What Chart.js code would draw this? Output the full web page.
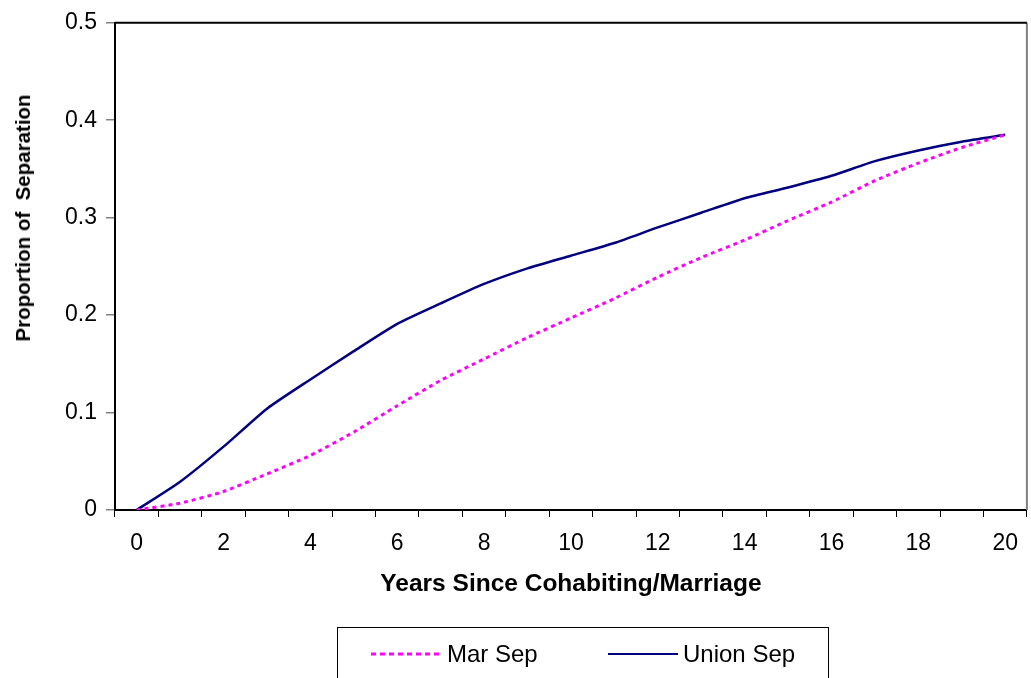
<!DOCTYPE html>
<html>
<head>
<meta charset="utf-8">
<script src="https://cdn.jsdelivr.net/npm/chart.js@4"></script>
<style>
  html, body { margin: 0; padding: 0; background: #fff; }
  #wrap { position: relative; width: 1031px; height: 678px; overflow: hidden; font-family: "Liberation Sans", Arial, sans-serif; }
  #chart { position: absolute; left: 0; top: 0; }
  #ytitle {
    position: absolute; left: 23px; top: 218px; white-space: pre;
    transform: translate(-50%, -50%) rotate(-90deg);
    font-weight: bold; font-size: 20.5px; color: #000;
  }
  #legend {
    position: absolute; left: 337px; top: 627px; width: 492px; height: 70px;
    border: 1px solid #000; box-sizing: border-box;
  }
  .item { position: absolute; top: 12px; height: 28px; font-size: 24px; line-height: 28px; color: #000; }
  .item svg { position: absolute; left: 0; top: 0; }
  .item span { position: absolute; white-space: nowrap; }
</style>
</head>
<body>
<div id="wrap">
  <canvas id="chart" width="1031" height="678"></canvas>
  <div id="ytitle">Proportion of  Separation</div>
  <div id="legend">
    <div class="item" style="left:33px">
      <svg width="72" height="28"><line x1="0" y1="14" x2="71" y2="14" stroke="#ff00ff" stroke-width="3" stroke-dasharray="5,4"/></svg>
      <span style="left:76px">Mar Sep</span>
    </div>
    <div class="item" style="left:270px">
      <svg width="72" height="28"><line x1="0" y1="14" x2="70" y2="14" stroke="#000080" stroke-width="2"/></svg>
      <span style="left:75px">Union Sep</span>
    </div>
  </div>
</div>
<script>
// ================= DATA =================
const years = ["0","1","2","3","4","5","6","7","8","9","10","11","12","13","14","15","16","17","18","19","20"];
const marSep = [0, 0.007, 0.019, 0.037, 0.056, 0.080, 0.107, 0.133, 0.155, 0.177, 0.197, 0.217, 0.239, 0.259, 0.277, 0.297, 0.316, 0.338, 0.356, 0.372, 0.385];
const unionSep = [0, 0.029, 0.065, 0.104, 0.134, 0.163, 0.191, 0.212, 0.232, 0.248, 0.261, 0.274, 0.290, 0.305, 0.320, 0.331, 0.343, 0.358, 0.369, 0.378, 0.385];
const yTicks = [0, 0.1, 0.2, 0.3, 0.4, 0.5];

// ================= PLOT BORDER =================
const plotBorder = {
  id: "plotBorder",
  afterDraw(chart) {
    const { ctx, chartArea: a } = chart;
    ctx.save();
    ctx.strokeStyle = "#808080";
    ctx.lineWidth = 2;
    ctx.beginPath();
    ctx.moveTo(a.right, a.top);
    ctx.lineTo(a.right, a.bottom);
    ctx.stroke();
    ctx.strokeStyle = "#000";
    ctx.beginPath();
    ctx.moveTo(a.left, a.top);
    ctx.lineTo(a.right, a.top);
    ctx.stroke();
    ctx.restore();
  }
};

const tickFont = { family: "'Liberation Sans', Arial, sans-serif", size: 23 };

new Chart(document.getElementById("chart").getContext("2d"), {
  type: "line",
  data: {
    labels: years,
    datasets: [
      {
        label: "Mar Sep",
        data: marSep,
        borderColor: "#ff00ff",
        borderWidth: 3,
        borderDash: [4, 4],
        pointRadius: 0,
        tension: 0.2,
        fill: false
      },
      {
        label: "Union Sep",
        data: unionSep,
        borderColor: "#000080",
        borderWidth: 2.5,
        pointRadius: 0,
        tension: 0.2,
        fill: false
      }
    ]
  },
  options: {
    responsive: false,
    animation: false,
    layout: { padding: { top: 21, right: 1, left: 0, bottom: 0 } },
    plugins: { legend: { display: false }, tooltip: { enabled: false } },
    scales: {
      x: {
        offset: true,
        grid: { offset: true, drawOnChartArea: false, tickLength: 7, color: "#000", lineWidth: 1 },
        border: { color: "#000", width: 2 },
        ticks: {
          color: "#000", font: tickFont, autoSkip: false, maxRotation: 0, padding: 13,
          callback: (v, i) => (i % 2 === 0 ? years[i] : "")
        },
        title: {
          display: true, text: "Years Since Cohabiting/Marriage", color: "#000",
          font: { family: "'Liberation Sans', Arial, sans-serif", size: 24.5, weight: "bold" },
          padding: { top: 0, bottom: 79 }
        },
        afterFit(scale) { scale.height = 168; }
      },
      y: {
        min: 0,
        max: 0.5,
        afterBuildTicks(scale) { scale.ticks = yTicks.map(v => ({ value: v })); },
        grid: { drawOnChartArea: false, tickLength: 9, color: "#808080", lineWidth: 1.5 },
        border: { color: "#000", width: 2 },
        ticks: { color: "#000", font: tickFont, padding: 9, callback: v => String(v) },
        afterFit(scale) { scale.width = 115; }
      }
    }
  },
  plugins: [plotBorder]
});
</script>
</body>
</html>
